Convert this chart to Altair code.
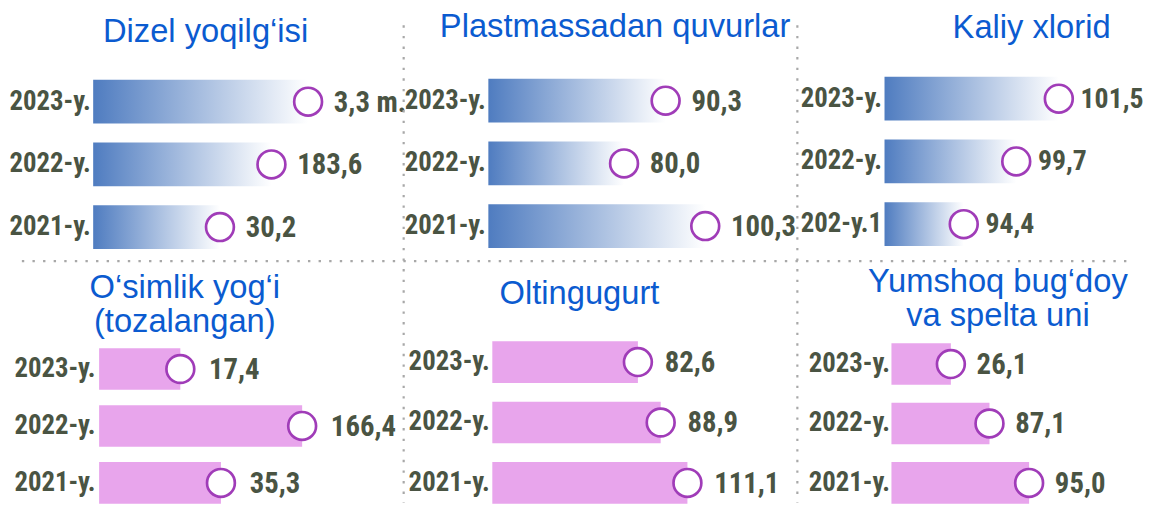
import altair as alt
import pandas as pd

# ---------------- data ----------------
titles = [
    ["Dizel yoqilg‘isi"],
    ["Plastmassadan quvurlar"],
    ["Kaliy xlorid"],
    ["O‘simlik yog‘i", "(tozalangan)"],
    ["Oltingugurt"],
    ["Yumshoq bug‘doy", "va spelta uni"],
]
years = [
    ["2023-y.", "2022-y.", "2021-y."],
    ["2023-y.", "2022-y.", "2021-y."],
    ["2023-y.", "2022-y.", "202-y.1"],
    ["2023-y.", "2022-y.", "2021-y."],
    ["2023-y.", "2022-y.", "2021-y."],
    ["2023-y.", "2022-y.", "2021-y."],
]
value_labels = [
    ["3,3 m.", "183,6", "30,2"],
    ["90,3", "80,0", "100,3"],
    ["101,5", "99,7", "94,4"],
    ["17,4", "166,4", "35,3"],
    ["82,6", "88,9", "111,1"],
    ["26,1", "87,1", "95,0"],
]
# visual bar lengths as drawn in the original (arbitrary units)
bar_len = [
    [217, 180, 128],
    [179, 137, 219],
    [176, 133, 80],
    [82, 205, 123],
    [147, 170, 197],
    [60, 99, 139],
]

# ---------------- styles ----------------
LABEL_FONT = "Liberation Sans Narrow, Arial Narrow, Roboto Condensed, DejaVu Sans Condensed, sans-serif"
TITLE_FONT = "Liberation Sans, Arial, sans-serif"
TEXT_COLOR = "#4a5443"
TITLE_COLOR = "#0b5bd0"
PINK = "#e8a5ec"
CIRCLE = "#a03cb8"
SEP = "#a8a8a8"

grad = alt.LinearGradient(
    gradient="linear",
    stops=[alt.GradientStop(color="#4f7cc0", offset=0),
           alt.GradientStop(color="#ffffff", offset=1)],
    x1=0, x2=1, y1=0, y2=0,
)

top_h = 191
bot_h = 166
col_w = [399, 400, 255]
# per panel: bar start shift, label padding, y range, band padding, title dx, title offset,
# value-label gap and size
panels_geo = [
    dict(sh=0, lp=3, yr=[0.4, 190.4], pi=0.304, dx=-86, off=-4.5, fill=grad, h=top_h, vd=26, vf=29),
    dict(sh=0, lp=3, yr=[-0.6, 189.4], pi=0.304, dx=-72, off=0.5, fill=grad, h=top_h, vd=26, vf=29),
    dict(sh=0, lp=3, yr=[-2.6, 187.4], pi=0.304, dx=21, off=-0.5, fill=grad, h=top_h, vd=22, vf=28),
    dict(sh=6, lp=-2, yr=[0.25, 172.75], pi=0.27, dx=-107, off=-25, fill=PINK, h=bot_h, vd=29, vf=29),
    dict(sh=4, lp=-1, yr=[-8.5, 174.5], pi=0.311, dx=-108, off=3.5, fill=PINK, h=bot_h, vd=27, vf=29),
    dict(sh=7, lp=-5, yr=[-6, 174], pi=0.3, dx=-13, off=-19, fill=PINK, h=bot_h, vd=26, vf=29),
]


def panel(i):
    g = panels_geo[i]
    w = col_w[i % 3]
    df = pd.DataFrame({"year": years[i], "len": bar_len[i], "label": value_labels[i]})
    base = alt.Chart(df)
    x = alt.X("len:Q", scale=alt.Scale(domain=[-g["sh"], w - g["sh"]], nice=False, zero=False),
              axis=None)
    y = alt.Y(
        "year:N", sort=None, title=None,
        scale=alt.Scale(range=g["yr"], paddingInner=g["pi"], paddingOuter=g["pi"] / 2),
        axis=alt.Axis(domain=False, ticks=False, grid=False, labelFont=LABEL_FONT,
                      labelFontSize=27, labelFontWeight="bold", labelColor=TEXT_COLOR,
                      labelPadding=g["lp"], labelBaseline="middle"),
    )
    bars = base.mark_bar(fill=g["fill"], stroke=None).encode(
        x=x, x2=alt.datum(0), y=y)
    circles = base.mark_point(shape="circle", filled=True, fill="white", stroke=CIRCLE,
                              strokeWidth=2.7, size=790, opacity=1).encode(x=x, y=y)
    texts = base.mark_text(align="left", baseline="middle", dx=g["vd"], dy=1, font=LABEL_FONT,
                           fontSize=g["vf"], fontWeight="bold", color=TEXT_COLOR).encode(
        x=x, y=y, text="label:N")
    t = alt.TitleParams(text=titles[i], font=TITLE_FONT, fontSize=33, fontWeight="normal",
                        color=TITLE_COLOR, anchor="middle", frame="group", dx=g["dx"],
                        offset=g["off"], baseline="alphabetic", lineHeight=35)
    return alt.layer(bars, circles, texts).properties(width=w, height=g["h"], title=t)


# separators: an untitled cell at the end of the first row draws the dotted lines
one = pd.DataFrame({"k": [0]})
sep_style = dict(color=SEP, strokeWidth=2.2, strokeDash=[2.4, 8.3])
hsep = alt.Chart(one).mark_rule(**sep_style).encode(
    x=alt.value(-1126), x2=alt.value(-3), y=alt.value(193))
vsep1 = alt.Chart(one).mark_rule(**sep_style).encode(
    x=alt.value(-740.5), y=alt.value(-45), y2=alt.value(437))
vsep2 = alt.Chart(one).mark_rule(**sep_style).encode(
    x=alt.value(-343), y=alt.value(-45), y2=alt.value(437))
anchor = alt.Chart(one).mark_rule(strokeOpacity=0).encode(
    x=alt.value(-1135), x2=alt.value(-1134), y=alt.value(-59))
sep_cell = alt.layer(hsep, vsep1, vsep2, anchor).properties(width=1, height=top_h)

chart = alt.concat(
    panel(0), panel(1), panel(2), sep_cell,
    panel(3), panel(4), panel(5),
    columns=4, bounds="flush", spacing=alt.RowColnumber(row=82, column=0),
).properties(padding=0, background="white").configure_view(stroke=None)

chart.save("out.html", embed_options={"renderer": "svg", "actions": False})
